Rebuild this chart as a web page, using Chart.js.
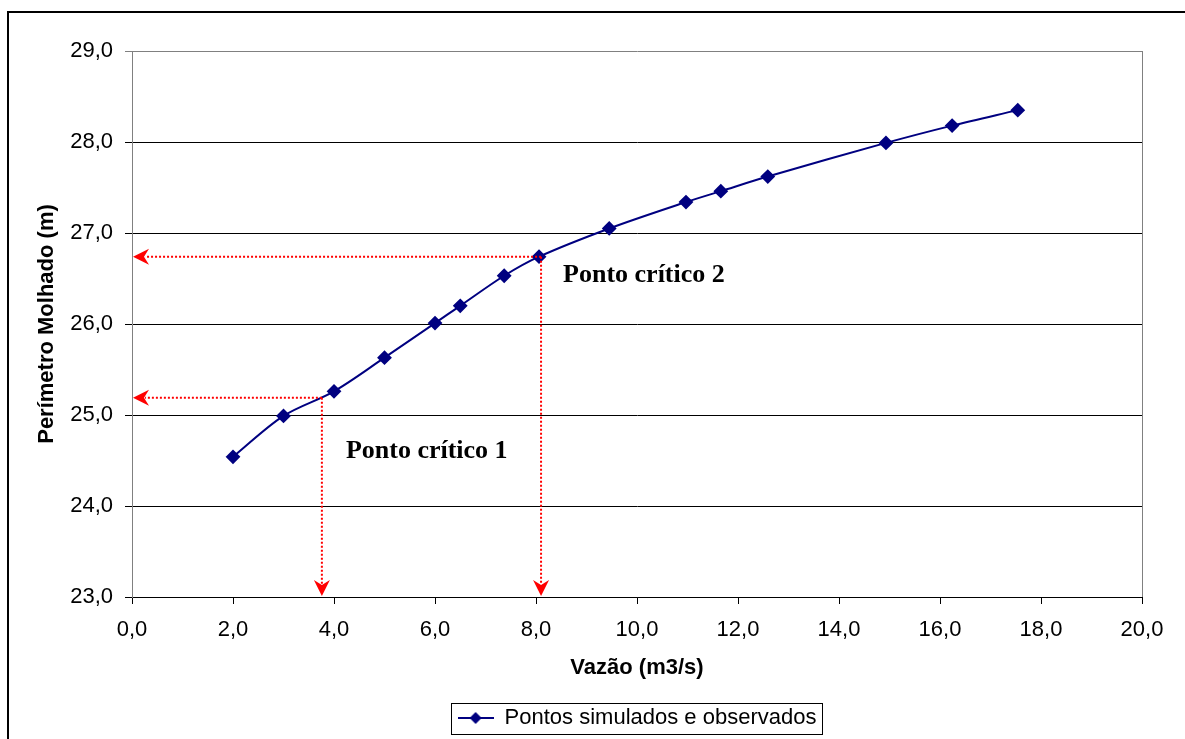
<!DOCTYPE html>
<html>
<head>
<meta charset="utf-8">
<script src="https://cdn.jsdelivr.net/npm/chart.js@4/dist/chart.umd.min.js"></script>
<style>
  html, body { margin: 0; padding: 0; background: #fff; }
</style>
</head>
<body>
<canvas id="myChart" width="1185" height="739"></canvas>
<script>
// data
const vazao = [2.0, 3.0, 4.0, 5.0, 6.0, 6.5, 7.37, 8.06, 9.45, 10.97, 11.66, 12.59, 14.93, 16.24, 17.54];
const perimetro = [24.54, 24.99, 25.26, 25.63, 26.01, 26.20, 26.53, 26.74, 27.05, 27.34, 27.46, 27.62, 27.99, 28.18, 28.35];
const criticoX = [3.76, 8.10];
const criticoY = [25.19, 26.74];
const criticoLabels = ['Ponto crítico 1', 'Ponto crítico 2'];

const seriesName = 'Pontos simulados e observados';
const xTitle = 'Vazão (m3/s)';
const yTitle = 'Perímetro Molhado (m)';

const navy = '#000080';
const sans = 'Liberation Sans, Arial, sans-serif';
const serif = 'Liberation Serif, Times New Roman, serif';

const fmt = v => v.toFixed(1).replace('.', ',');

// legend marker: line with a diamond
const marker = document.createElement('canvas');
marker.width = 36;
marker.height = 14;
(function () {
    const c = marker.getContext('2d');
    c.strokeStyle = navy;
    c.lineWidth = 2;
    c.beginPath();
    c.moveTo(0, 7);
    c.lineTo(36, 7);
    c.stroke();
    c.fillStyle = navy;
    c.beginPath();
    c.moveTo(18, 1);
    c.lineTo(24, 7);
    c.lineTo(18, 13);
    c.lineTo(12, 7);
    c.closePath();
    c.fill();
})();

function arrowLeft(ctx, x, y) {
    ctx.beginPath();
    ctx.moveTo(x, y);
    ctx.lineTo(x + 16, y - 8);
    ctx.lineTo(x + 11, y);
    ctx.lineTo(x + 16, y + 8);
    ctx.closePath();
    ctx.fill();
}

function arrowDown(ctx, x, y) {
    ctx.beginPath();
    ctx.moveTo(x, y);
    ctx.lineTo(x - 8, y - 16);
    ctx.lineTo(x, y - 11);
    ctx.lineTo(x + 8, y - 16);
    ctx.closePath();
    ctx.fill();
}

const extras = {
    id: 'extras',
    afterDatasetsDraw(chart) {
        const ctx = chart.ctx;
        const area = chart.chartArea;
        const xs = chart.scales.x;
        const ys = chart.scales.y;
        ctx.save();
        ctx.strokeStyle = '#ff0000';
        ctx.fillStyle = '#ff0000';
        ctx.lineWidth = 2;
        ctx.setLineDash([2, 2]);
        for (let i = 0; i < criticoX.length; i++) {
            const px = xs.getPixelForValue(criticoX[i]);
            const py = ys.getPixelForValue(criticoY[i]);
            ctx.beginPath();
            ctx.moveTo(px, py);
            ctx.lineTo(area.left + 13, py);
            ctx.moveTo(px, py);
            ctx.lineTo(px, area.bottom - 13);
            ctx.stroke();
        }
        ctx.setLineDash([]);
        for (let i = 0; i < criticoX.length; i++) {
            const px = xs.getPixelForValue(criticoX[i]);
            const py = ys.getPixelForValue(criticoY[i]);
            arrowLeft(ctx, area.left + 1, py);
            arrowDown(ctx, px, area.bottom - 1);
        }
        // labels of the critical points
        ctx.fillStyle = '#000';
        ctx.font = 'bold 26px ' + serif;
        ctx.textBaseline = 'alphabetic';
        ctx.textAlign = 'left';
        const p1x = xs.getPixelForValue(criticoX[0]);
        const p1y = ys.getPixelForValue(criticoY[0]);
        ctx.fillText(criticoLabels[0], p1x + 24, p1y + 60);
        const p2x = xs.getPixelForValue(criticoX[1]);
        const p2y = ys.getPixelForValue(criticoY[1]);
        ctx.fillText(criticoLabels[1], p2x + 22, p2y + 25);
        ctx.restore();
    },
    afterDraw(chart) {
        const ctx = chart.ctx;
        const area = chart.chartArea;
        ctx.save();
        // right edge of the plot area
        ctx.strokeStyle = '#808080';
        ctx.lineWidth = 1;
        ctx.beginPath();
        ctx.moveTo(area.right + 0.5, area.top);
        ctx.lineTo(area.right + 0.5, area.bottom);
        ctx.stroke();
        // outer frame
        ctx.strokeStyle = '#000';
        ctx.lineWidth = 2;
        ctx.strokeRect(8, 12, 1200, 760);
        // legend frame
        const hb = chart.legend.legendHitBoxes[0];
        if (hb) {
            const cy = hb.top + hb.height / 2;
            ctx.lineWidth = 1;
            ctx.strokeRect(Math.round(hb.left - 7) + 0.5, Math.round(cy - 15.5) + 0.5,
                Math.round(hb.width + 12), 31);
        }
        ctx.restore();
    }
};

const data = {
    datasets: [{
        label: seriesName,
        data: vazao.map((v, i) => ({ x: v, y: perimetro[i] })),
        borderColor: navy,
        backgroundColor: navy,
        borderWidth: 2,
        pointStyle: 'rectRot',
        pointRadius: 6,
        pointHoverRadius: 6,
        tension: 0.33,
        showLine: true,
        fill: false
    }]
};

const config = {
    type: 'line',
    data: data,
    options: {
        responsive: false,
        animation: false,
        layout: { padding: { left: 0, top: 51, right: 43, bottom: 0 } },
        plugins: {
            tooltip: { enabled: false },
            legend: {
                position: 'bottom',
                fullSize: false,
                labels: {
                    usePointStyle: true,
                    pointStyle: marker,
                    pointStyleWidth: 36,
                    padding: 10,
                    color: '#000',
                    font: { family: sans, size: 22 }
                }
            }
        },
        scales: {
            x: {
                type: 'linear',
                min: 0,
                max: 20,
                afterFit: s => { s.height = 100; },
                ticks: {
                    stepSize: 2,
                    autoSkip: false,
                    maxRotation: 0,
                    padding: 13,
                    color: '#000',
                    font: { family: sans, size: 22 },
                    callback: v => fmt(v)
                },
                grid: { drawOnChartArea: false, drawTicks: true, tickLength: 7, color: '#000' },
                border: { color: '#000', width: 1 },
                title: {
                    display: true,
                    text: xTitle,
                    color: '#000',
                    font: { family: sans, size: 22, weight: 'bold' },
                    padding: { top: 0, bottom: 16 }
                }
            },
            y: {
                min: 23,
                max: 29,
                afterFit: s => { s.width = 132; },
                ticks: {
                    stepSize: 1,
                    padding: 12,
                    color: '#000',
                    font: { family: sans, size: 22 },
                    callback: v => fmt(v)
                },
                grid: {
                    drawTicks: true,
                    tickLength: 7,
                    color: c => (c.tick && c.tick.value === 29) ? '#808080' : '#000'
                },
                border: { color: '#808080', width: 1 },
                title: {
                    display: true,
                    text: yTitle,
                    color: '#000',
                    font: { family: sans, size: 22, weight: 'bold' },
                    padding: { top: 34, bottom: 0 }
                }
            }
        }
    },
    plugins: [extras]
};

const myChart = new Chart(document.getElementById('myChart'), config);
</script>
</body>
</html>
